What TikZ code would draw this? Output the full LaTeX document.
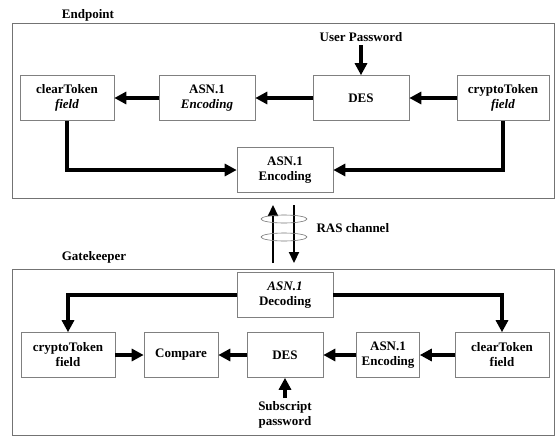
\documentclass[tikz,border=0pt]{standalone}
\usepackage{fontspec}
\setmainfont{Liberation Serif}
\usetikzlibrary{arrows.meta}

\begin{document}
\begin{tikzpicture}[x=1pt,y=-1pt,
	flow/.style={-{Triangle[length=12pt,width=12pt]},line width=3.2pt},
	frame/.style={draw=black!55,line width=0.6pt},
	box node/.style={rectangle,draw=black!50,line width=0.6pt,minimum height=45pt,inner sep=2pt,align=center,font=\fontsize{13}{15}\selectfont\bfseries},
	text node/.style={align=center,font=\fontsize{13}{15}\selectfont\bfseries}
]
	\useasboundingbox (0,0) rectangle (555,437);

	% Endpoint
	\draw[frame] (12,23) rectangle (554,198);
	\node[text node] (EP) at (88,15) {Endpoint};

	\node[text node] (upw) at (361,37) {User Password};
	\node[box node, minimum width=94pt] (clr1) at (67,98) {clearToken\\\textit{field}};
	\node[box node, minimum width=96pt] (enc1) at (207,98) {ASN.1\\\textit{Encoding}};
	\node[box node, minimum width=96pt] (des1) at (361,98) {DES};
	\node[box node, minimum width=92pt] (cry1) at (503,98) {cryptoToken\\\textit{field}};
	\node[box node, minimum width=96pt] (enc2) at (285,170) {ASN.1\\Encoding};

	\draw[flow] (upw) -- (des1);
	\draw[flow] (cry1) -- (des1);
	\draw[flow] (des1) -- (enc1);
	\draw[flow] (enc1) -- (clr1);
	\draw[flow] (clr1.south) |- (enc2.west);
	\draw[flow] (cry1.south) |- (enc2.east);

	% RAS channel
	\coordinate (up1) at (273,263);
	\coordinate (up2) at (273,205);
	\coordinate (dn1) at (294,205);
	\coordinate (dn2) at (294,263);
	\draw[flow,line width=2.2pt,-{Triangle[length=11pt,width=10pt]}] (up1) -- (up2);
	\draw[flow,line width=2.2pt,-{Triangle[length=11pt,width=10pt]}] (dn1) -- (dn2);
	\draw[frame] (284,219) ellipse [x radius=23, y radius=4];
	\draw[frame] (284,237) ellipse [x radius=23, y radius=4];
	\node[text node, anchor=west] (ras) at (313,228) {RAS channel};

	% Gatekeeper
	\draw[frame] (12,269) rectangle (554,435);
	\node[text node] (GK) at (94,257) {Gatekeeper};

	\node[box node, minimum width=96pt] (dec) at (285,295) {\textit{ASN.1}\\Decoding};
	\node[box node, minimum width=94pt] (cry2) at (68,355) {cryptoToken\\field};
	\node[box node, minimum width=74pt] (cmp) at (181,355) {Compare};
	\node[box node, minimum width=76pt] (des2) at (285,355) {DES};
	\node[box node, minimum width=63pt] (enc3) at (388,355) {ASN.1\\Encoding};
	\node[box node, minimum width=94pt] (clr2) at (502,355) {clearToken\\field};
	\node[text node] (spw) at (285,415) {Subscript\\password};

	\draw[flow] (dec.west) -| (cry2.north);
	\draw[flow] (dec.east) -| (clr2.north);
	\draw[flow] (cry2) -- (cmp);
	\draw[flow] (des2) -- (cmp);
	\draw[flow] (enc3) -- (des2);
	\draw[flow] (clr2) -- (enc3);
	\draw[flow] (spw) -- (des2);

\end{tikzpicture}
\end{document}
